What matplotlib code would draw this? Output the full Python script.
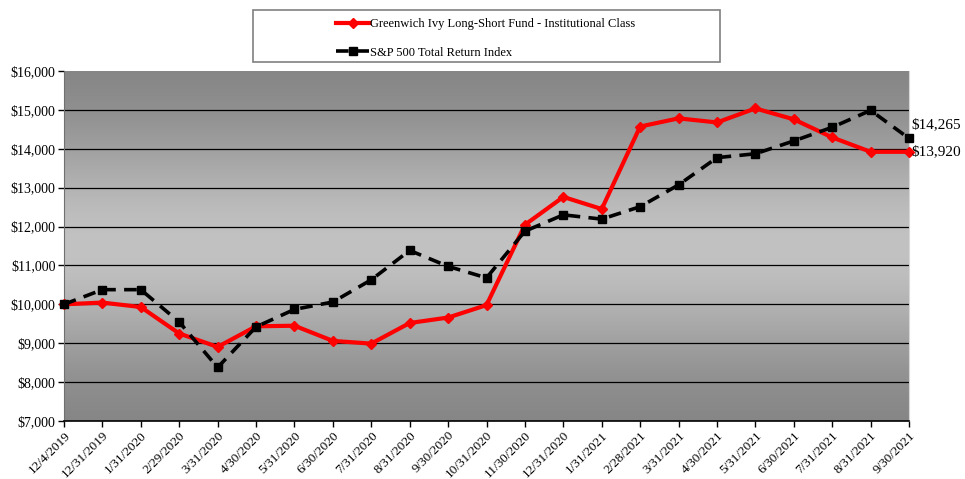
import numpy as np
import matplotlib
matplotlib.use("Agg")
import matplotlib.pyplot as plt
from matplotlib.patches import Rectangle

plt.rcParams['font.family'] = ['Liberation Serif', 'DejaVu Serif']

dates = ["12/4/2019", "12/31/2019", "1/31/2020", "2/29/2020", "3/31/2020", "4/30/2020",
         "5/31/2020", "6/30/2020", "7/31/2020", "8/31/2020", "9/30/2020", "10/31/2020",
         "11/30/2020", "12/31/2020", "1/31/2021", "2/28/2021", "3/31/2021", "4/30/2021",
         "5/31/2021", "6/30/2021", "7/31/2021", "8/31/2021", "9/30/2021"]

fund = [10000, 10045, 9930, 9250, 8905, 9435, 9450, 9060, 8990, 9520, 9660, 9980,
        12045, 12760, 12450, 14570, 14780, 14675, 15035, 14755, 14290, 13920, 13920]

sp500 = [10000, 10377, 10377, 9546, 8377, 9420, 9870, 10060, 10630, 11385, 10975, 10680,
         11880, 12300, 12190, 12510, 13070, 13770, 13870, 14200, 14550, 14985, 14265]

fund_name = "Greenwich Ivy Long-Short Fund - Institutional Class"
sp_name = "S&P 500 Total Return Index"

fig = plt.figure(figsize=(9.65, 4.79), dpi=100)
ax = fig.add_axes([0.0663, 0.121, 0.8757, 0.731])

x = np.arange(len(dates))
n = len(dates) - 1

# gray gradient background: dark at top/bottom, light in the middle
t = np.linspace(0, 1, 256)
shade = 0.5 + 0.26 * np.exp(-((t - 0.5) / 0.33) ** 2)
grad = np.dstack([shade, shade, shade]).reshape(256, 1, 3)
ax.imshow(grad, aspect='auto', extent=[0, n, 7000, 16000], origin='lower', zorder=0)

for v in range(8000, 16000, 1000):
    ax.axhline(v, color='black', lw=0.9, zorder=1)

ax.plot(x, fund, color='#ff0000', lw=3, marker='D', ms=5, mec='#ff0000',
        label=fund_name, zorder=3, clip_on=False)
ax.plot(x, sp500, color='black', lw=2.6, ls=(0, (3.5, 2.3)), marker='s', ms=5.8,
        label=sp_name, zorder=4, clip_on=False)

ax.set_xlim(0, n)
ax.set_ylim(7000, 16000)
ax.set_yticks(range(7000, 16001, 1000))
ax.set_yticklabels(["${:,}".format(v) for v in range(7000, 16001, 1000)], fontsize=10)
ax.set_xticks(x)
ax.set_xticklabels(dates, rotation=45, ha='right', rotation_mode='anchor', fontsize=9.5)
ax.tick_params(axis='x', length=4, width=1, pad=2)
ax.tick_params(axis='y', length=4, width=1, pad=2)

ax.spines['top'].set_visible(False)
ax.spines['right'].set_color('#d8d8d8')
ax.spines['left'].set_color('#707070')
ax.spines['bottom'].set_color('black')
ax.spines['bottom'].set_linewidth(1.2)

ax.annotate("${:,}".format(sp500[-1]), (n, sp500[-1]), xytext=(2, 10),
            textcoords='offset points', va='center', ha='left', fontsize=11)
ax.annotate("${:,}".format(fund[-1]), (n, fund[-1]), xytext=(2, 0),
            textcoords='offset points', va='center', ha='left', fontsize=11)

# legend box
fig.patches.append(Rectangle((0.262, 0.871), 0.484, 0.108, transform=fig.transFigure,
                             facecolor='white', edgecolor='#808080', lw=1.2))
h, l = ax.get_legend_handles_labels()
leg = fig.legend(h, l, loc='center left', bbox_to_anchor=(0.342, 0.92), frameon=False,
                 fontsize=9, handlelength=2.6, handletextpad=0.1, labelspacing=1.35,
                 borderpad=0)

fig.savefig("out.png", dpi=100)
